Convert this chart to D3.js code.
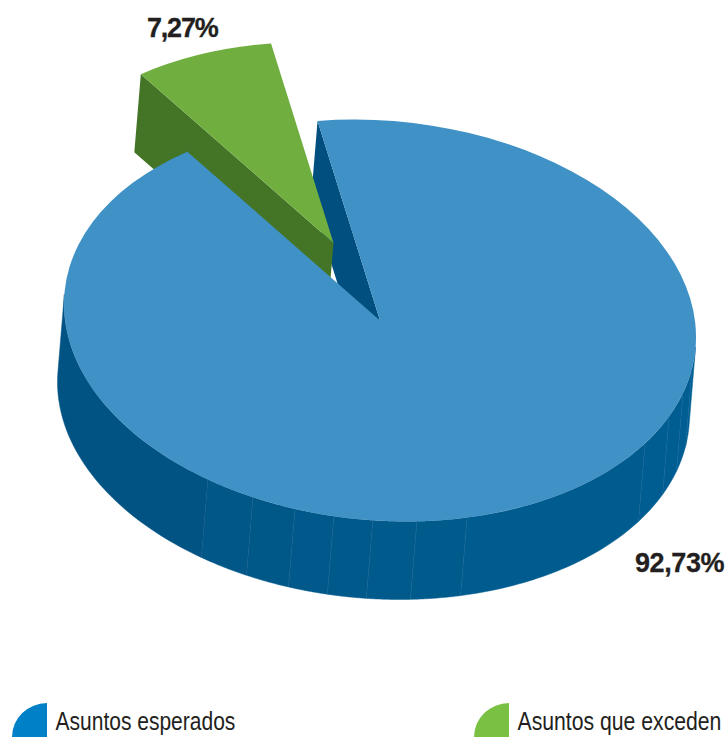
<!DOCTYPE html>
<html>
<head>
<meta charset="utf-8">
<script src="https://cdn.jsdelivr.net/npm/d3@7"></script>
<style>html,body{margin:0;padding:0;background:#fff}svg{display:block}</style>
</head>
<body>
<svg id="c" width="728" height="737"></svg>
<script>
const categories = ["Asuntos esperados", "Asuntos que exceden"];
const shares = [92.73, 7.27];
const shareLabels = ["92,73%", "7,27%"];
const legendColors = ["#0080c6", "#7ac143"];
const topColors = ["#3f91c6", "#6fae3f"];
const wallColors = ["#004f7f", "#447526"];
const sideRamp = ["#005e94", "#005a8c", "#004f7f"];
// side-wall facet limits, degrees clockwise from the top of the pie
const facetAngles = [92.8, 99, 106.5, 113.8, 123, 164, 173.3, 181.3, 188.4, 195.6, 203.7, 213, 272.8];

const svg = d3.select("#c");
const rad = d => d * Math.PI / 180;
const R = 1000;
const M = {a: .316, c: .0165, d: .2003, x: 380, y: 320.5};
const depth = {x: -6.5, y: 78};
const blast = {x: -46.5, y: -77.5};

const pie = d3.pie().sort(null).startAngle(rad(-11.4)).endAngle(rad(348.6));
const slices = pie(shares);
const arc = d3.arc().innerRadius(0).outerRadius(R);

const px = d3.scaleLinear().domain([-R, R]).range([M.x - M.a * R, M.x + M.a * R]);
const py = (x, y) => M.y + M.c * x + M.d * y;
function project(theta, r, off) {
  const x = r * Math.sin(theta), y = -r * Math.cos(theta);
  return [px(x) + off.x, py(x, y) + off.y];
}
const add = (p, o) => [p[0] + o.x, p[1] + o.y];
const line = d3.line();
const matrix = off => `matrix(${M.a},${M.c},0,${M.d},${M.x + off.x},${M.y + off.y})`;
const zero = {x: 0, y: 0};

const blue = slices[0], green = slices[1];

// inner wall of the large slice, seen through the gap
const a0 = project(blue.startAngle, R, zero), c0 = project(0, 0, zero);
svg.append("path").attr("fill", wallColors[0])
  .attr("d", line([a0, c0, add(c0, depth), add(a0, depth)]) + "Z");

// inner wall of the detached slice
const g0 = project(green.startAngle, R, blast), gc = project(0, 0, blast);
svg.append("path").attr("fill", wallColors[1])
  .attr("d", line([g0, gc, add(gc, depth), add(g0, depth)]) + "Z");

// top of the detached slice
svg.append("path").attr("fill", topColors[1])
  .attr("transform", matrix(blast))
  .attr("d", arc(green));

// curved outer wall of the large slice
const shade = d3.scaleLinear().domain([92.8, 180, 272.8]).range(sideRamp);
d3.pairs(facetAngles).forEach(([p, q]) => {
  const steps = d3.range(0, 41).map(i => rad(p + (q - p) * i / 40));
  const upper = steps.map(t => project(t, R, zero));
  const lower = steps.slice().reverse().map(t => project(t, R, depth));
  const col = shade((p + q) / 2);
  svg.append("path").attr("fill", col).attr("stroke", col).attr("stroke-width", .5)
    .attr("d", line(upper.concat(lower)) + "Z");
});
facetAngles.slice(1, -1).forEach(p => {
  const u = project(rad(p), R, zero);
  svg.append("path").attr("fill", "none").attr("stroke", "#4d86ad")
    .attr("stroke-opacity", .18).attr("stroke-width", .7)
    .attr("d", line([u, add(u, depth)]));
});

// top of the large slice
svg.append("path").attr("fill", topColors[0])
  .attr("transform", matrix(zero))
  .attr("d", arc(blue));

// value labels
const text = "#231f20";
svg.append("text").text(shareLabels[1]).attr("x", 147).attr("y", 37)
  .attr("font-family", "Liberation Sans").attr("font-weight", 700).attr("font-size", 27)
  .attr("letter-spacing", -1.2).attr("fill", text).attr("stroke", text).attr("stroke-width", .3);
svg.append("text").text(shareLabels[0]).attr("x", 635).attr("y", 572)
  .attr("font-family", "Liberation Sans").attr("font-weight", 700).attr("font-size", 27)
  .attr("letter-spacing", -0.4).attr("fill", text).attr("stroke", text).attr("stroke-width", .3);

// legend
const legendX = d3.scaleOrdinal().domain(categories).range([47, 509]);
const legendWidth = d3.scaleOrdinal().domain(categories).range([180, 204]);
const legendArc = d3.arc().innerRadius(0).outerRadius(35).startAngle(rad(-90)).endAngle(0);
categories.forEach((name, i) => {
  svg.append("path").attr("fill", legendColors[i])
    .attr("transform", `translate(${legendX(name)},737) scale(1,.97)`)
    .attr("d", legendArc());
  const t = svg.append("text").text(name)
    .attr("font-family", "Liberation Sans").attr("font-size", 25).attr("fill", text);
  const squeeze = legendWidth(name) / t.node().getComputedTextLength();
  t.attr("transform", `translate(${legendX(name) + 8.5},730) scale(${squeeze},1)`);
});
</script>
</body>
</html>
